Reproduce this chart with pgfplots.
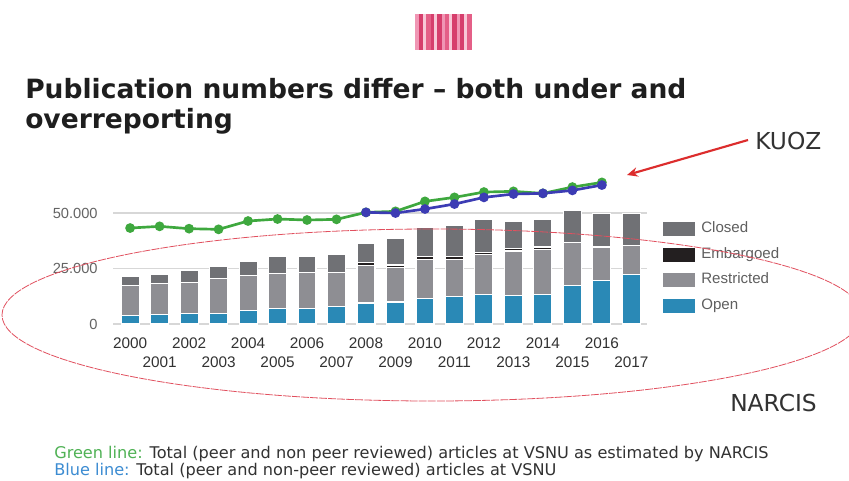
\documentclass[border=0pt]{standalone}
\usepackage{pgfplots}
\pgfplotsset{compat=1.18}
\usepackage{pgfplotstable}
\usetikzlibrary{arrows.meta}
\usepackage{fontspec}
\setmainfont{DejaVu Sans}
\newfontfamily\arial{Liberation Sans}

\definecolor{closedgray}{RGB}{112,113,117}
\definecolor{restrgray}{RGB}{142,142,147}
\definecolor{embblack}{RGB}{35,31,32}
\definecolor{openblue}{RGB}{42,137,182}
\definecolor{greenline}{RGB}{62,168,62}
\definecolor{blueline}{RGB}{60,60,180}
\definecolor{gridgray}{RGB}{215,215,215}
\definecolor{ticktext}{RGB}{100,100,100}
\definecolor{legtext}{RGB}{95,95,95}
\definecolor{titletext}{RGB}{30,30,30}
\definecolor{darktext}{RGB}{50,50,50}
\definecolor{kuozred}{RGB}{220,45,45}
\definecolor{ellred}{RGB}{225,80,95}
\definecolor{notegreen}{RGB}{80,178,85}
\definecolor{noteblue}{RGB}{60,140,210}
\definecolor{logoA}{RGB}{214,62,108}
\definecolor{logoB}{RGB}{240,150,180}
\definecolor{logoC}{RGB}{228,95,135}
\definecolor{logoD}{RGB}{248,200,215}

% stacked bars: open, restricted, embargoed, closed
\pgfplotstableread{
year open restricted embargoed closed
2000 3750 13550 0 4200
2001 4200 14000 0 4000
2002 4650 14150 0 5200
2003 4650 15650 0 5400
2004 6150 15750 0 6500
2005 7050 15650 0 7800
2006 7050 15950 0 7500
2007 7800 15600 0 8100
2008 9450 17050 1200 8600
2009 9900 15500 1200 11800
2010 11700 17400 1200 13200
2011 12500 16600 1200 14300
2012 13200 18000 1200 14900
2013 12900 20000 1200 12000
2014 13500 20000 1200 12600
2015 17300 19500 0 14200
2016 19700 15000 0 15000
2017 22200 13100 0 14400
}\bars

\pgfplotstableread{
year total
2000 43240
2001 44000
2002 42950
2003 42650
2004 46400
2005 47300
2006 46850
2007 47150
2008 50300
2009 50750
2010 55250
2011 57050
2012 59450
2013 59760
2014 58860
2015 61700
2016 63800
}\narcis

\pgfplotstableread{
year total
2008 50300
2009 50000
2010 51800
2011 54050
2012 57050
2013 58560
2014 58860
2015 60200
2016 62600
}\vsnu

\pgfplotsset{
  common/.style={
    at={(84.75pt,117pt)}, anchor=south west,
    scale only axis, width=400.5pt, height=108.2pt,
    xmin=1999.42, xmax=2017.53, ymin=0, ymax=65000,
    clip=false,
  },
}

\begin{document}
\begin{tikzpicture}[x=0.75pt,y=0.75pt]
\clip (0,0) rectangle (849,480);
\fill[white] (0,0) rectangle (849,480);

% logo
\foreach \xa/\w/\c in {415/4/logoB,419/4/logoA,423/3/logoD,426/5/logoC,431/3/logoA,434/3/logoD,437/5/logoA,442/3/logoB,445/4/logoC,449/3/logoD,452/5/logoA,457/3/logoB,460/4/logoA,464/3/logoD,467/5/logoC}
  \fill[\c] (\xa,430) rectangle ++(\w,36);

% title
\node[anchor=base west, inner sep=0pt, text=titletext, font=\bfseries\fontsize{19.9}{24}\selectfont] at (25,382) {Publication numbers differ -- both under and};
\node[anchor=base west, inner sep=0pt, text=titletext, font=\bfseries\fontsize{19.9}{24}\selectfont] at (25,352) {overreporting};

\begin{axis}[common,
  ybar stacked, bar width=13.5pt,
  axis line style={draw=none}, major tick length=0pt,
  ytick={0,25000,50000}, yticklabels={0,25.000,50.000},
  scaled y ticks=false,
  ymajorgrids, grid style={draw=gridgray, line width=1pt},
  xtick={2000,2002,...,2016},
  extra x ticks={2001,2003,...,2017},
  extra x tick style={grid=none, xticklabel style={yshift=-14.25pt}},
  /pgf/number format/1000 sep={},
  /pgf/number format/assume math mode=true,
  yticklabel style={font=\arial\fontsize{11}{13}\selectfont, text=ticktext, xshift=-8pt},
  xticklabel style={font=\arial\fontsize{11.5}{13}\selectfont, text=darktext, yshift=-7pt},
  reverse legend,
  legend image code/.code={\fill[#1,draw=none] (0pt,-5.25pt) rectangle (24pt,5.25pt);},
  legend style={at={(1.03,0.707)}, anchor=north west, draw=none, fill=none,
    inner sep=0pt, row sep=8.6pt,
    font=\arial\fontsize{11.3}{13}\selectfont, text=legtext,
    nodes={inner sep=0pt, text height=8pt, text depth=2.5pt},
    /tikz/every odd column/.append style={column sep=4.5pt}},
  legend cell align=left,
]
\addplot[fill=openblue, draw=white, line width=0.8pt] table[x=year,y=open]{\bars};
\addplot[fill=restrgray, draw=white, line width=0.8pt] table[x=year,y=restricted]{\bars};
\addplot[fill=embblack, draw=white, line width=0.8pt] table[x=year,y=embargoed]{\bars};
\addplot[fill=closedgray, draw=white, line width=0.8pt] table[x=year,y=closed]{\bars};
\legend{Open,Restricted,Embargoed,Closed}
\end{axis}

\begin{axis}[common, hide axis]
\addplot[greenline, line width=2pt, mark=*, mark size=2.6pt] table[x=year,y=total]{\narcis};
\addplot[blueline, line width=2pt, mark=*, mark size=2.6pt] table[x=year,y=total]{\vsnu};
\end{axis}

% annotations
\draw[ellred, line width=0.6pt, dash pattern=on 6pt off 0.8pt] (432,165) ellipse [x radius=322.5pt, y radius=64.5pt];
\draw[kuozred, line width=1.6pt, -{Stealth[length=8pt,width=7pt]}] (748,340) -- (627,305);
\node[anchor=west, inner sep=0pt, text=darktext, font=\fontsize{17.5}{20}\selectfont] at (755,339) {KUOZ};
\node[anchor=west, inner sep=0pt, text=darktext, font=\fontsize{17.5}{20}\selectfont] at (730,76.5) {NARCIS};

% notes
\node[anchor=base west, inner sep=0pt, text=darktext, font=\fontsize{12.1}{14}\selectfont] at (54,22) {\textcolor{notegreen}{Green line:} Total (peer and non peer reviewed) articles at VSNU as estimated by NARCIS};
\node[anchor=base west, inner sep=0pt, text=darktext, font=\fontsize{12.1}{14}\selectfont] at (54,5) {\textcolor{noteblue}{Blue line:} Total (peer and non-peer reviewed) articles at VSNU};
\end{tikzpicture}
\end{document}
